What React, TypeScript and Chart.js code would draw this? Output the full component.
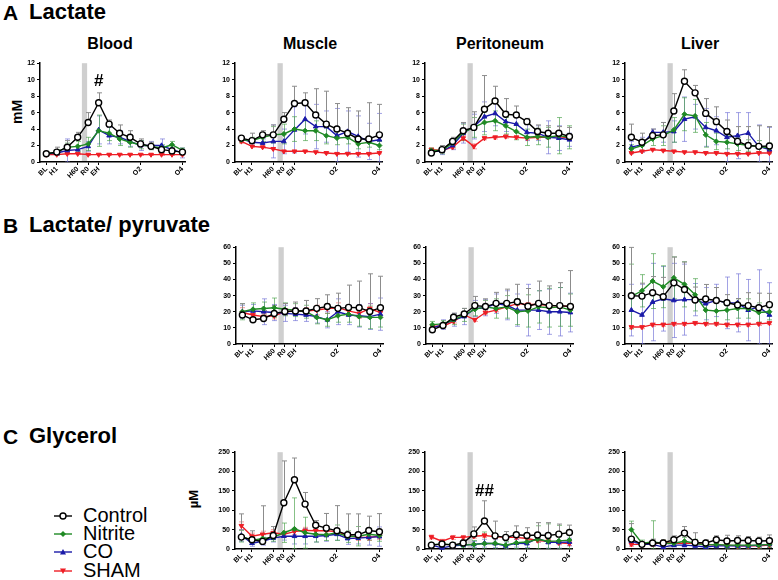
import React, { useEffect, useRef } from 'react';
import { Chart, registerables } from 'chart.js';
Chart.register(...registerables);

const FONT = "'Liberation Sans', Arial, Helvetica, sans-serif";
Chart.defaults.font.family = FONT;

// ---------- axis definitions ----------
const timeLabels = ['BL', 'H1', '', 'H60', 'R0', 'EH', '', '', '', 'O2', '', '', '', 'O4'];
const tickIndices = [0, 1, 3, 4, 5, 9, 13];
const shadeRange = [3.4, 3.9];
const lactateTicks = { max: 12, step: 2 };
const ratioTicks = { max: 60, step: 10 };
const glycerolTicks = { max: 250, step: 50 };

// ---------- A Lactate (mM) ----------
const bloodCtrl = [1.0, 1.2, 1.8, 3.0, 4.8, 7.2, 4.6, 3.5, 3.0, 2.2, 1.9, 1.5, 1.35, 1.2];
const bloodCtrlErr = [0.1, 0.6, 0.8, 0.6, 1.2, 1.2, 0.5, 1.0, 0.8, 0.6, 0.5, 0.4, 0.4, 0.3];
const bloodNit = [1.0, 1.2, 1.8, 1.9, 2.2, 3.8, 3.5, 2.8, 2.4, 2.1, 1.9, 1.7, 2.1, 1.4];
const bloodNitErr = [0.1, 0.3, 0.5, 0.6, 0.8, 1.9, 0.9, 0.8, 0.6, 0.5, 0.4, 0.4, 0.4, 0.3];
const bloodCO = [1.0, 1.1, 1.4, 1.5, 1.9, 3.9, 3.2, 3.0, 2.5, 2.0, 2.0, 2.0, 1.5, 1.1];
const bloodCOErr = [0.1, 0.3, 1.4, 0.5, 0.6, 1.7, 1.0, 0.8, 0.6, 0.6, 0.5, 0.8, 0.5, 0.6];
const bloodSham = [0.9, 0.9, 1.0, 1.0, 0.9, 0.9, 0.9, 0.9, 0.9, 0.9, 0.9, 0.9, 0.9, 0.9];
const bloodShamErr = [0.1, 0.1, 0.1, 0.1, 0.1, 0.1, 0.1, 0.1, 0.1, 0.1, 0.1, 0.1, 0.1, 0.1];

const muscleCtrl = [2.9, 2.6, 3.3, 3.3, 5.2, 7.1, 7.2, 5.7, 4.6, 4.0, 3.5, 2.8, 2.8, 3.3];
const muscleCtrlErr = [0.3, 0.9, 0.5, 1.2, 0.8, 2.1, 1.2, 3.2, 4.0, 3.1, 3.1, 3.4, 4.4, 3.7];
const muscleNit = [2.7, 2.6, 3.0, 3.3, 3.4, 4.0, 3.8, 3.8, 3.2, 2.9, 3.0, 2.2, 2.4, 2.0];
const muscleNitErr = [0.3, 0.4, 0.5, 1.0, 1.2, 1.5, 1.2, 1.2, 1.0, 0.8, 0.8, 0.6, 0.6, 0.5];
const muscleCO = [2.8, 2.4, 2.3, 2.5, 2.5, 3.9, 5.2, 4.3, 4.3, 3.2, 3.7, 3.1, 2.5, 2.7];
const muscleCOErr = [0.3, 0.4, 0.5, 2.0, 1.5, 2.8, 1.8, 2.7, 1.9, 3.3, 2.5, 2.5, 2.2, 3.2];
const muscleSham = [2.5, 1.9, 1.8, 1.6, 1.3, 1.3, 1.3, 1.2, 1.1, 1.0, 1.0, 1.0, 1.0, 1.1];
const muscleShamErr = [0.2, 0.1, 0.1, 0.1, 0.1, 0.1, 0.1, 0.1, 0.1, 0.1, 0.1, 0.1, 0.1, 0.1];

const periCtrl = [1.1, 1.5, 2.5, 3.8, 4.2, 6.4, 7.4, 5.8, 5.7, 4.9, 3.7, 3.5, 3.5, 3.1];
const periCtrlErr = [0.3, 0.5, 0.5, 1.0, 1.9, 4.1, 1.8, 1.9, 1.1, 0.4, 0.8, 0.9, 0.8, 1.1];
const periNit = [1.4, 1.4, 2.3, 3.6, 4.2, 4.8, 5.0, 4.4, 3.7, 3.0, 3.1, 3.0, 3.2, 3.0];
const periNitErr = [0.3, 0.4, 0.5, 1.0, 1.2, 1.5, 1.2, 1.0, 1.0, 1.0, 1.0, 1.2, 2.2, 1.4];
const periCO = [1.3, 1.3, 2.0, 3.5, 4.3, 5.5, 5.9, 4.9, 4.6, 3.6, 3.5, 3.0, 2.9, 2.7];
const periCOErr = [0.3, 0.4, 0.5, 1.2, 1.5, 1.8, 1.5, 1.2, 1.0, 1.0, 0.9, 2.0, 1.5, 0.8];
const periSham = [1.5, 1.4, 1.8, 2.9, 1.9, 2.9, 3.0, 3.1, 3.0, 2.9, 3.0, 3.0, 3.1, 2.9];
const periShamErr = [0.2, 0.2, 0.2, 0.3, 0.3, 0.2, 0.2, 0.2, 0.2, 0.2, 0.2, 0.2, 0.2, 0.2];

const liverCtrl = [3.0, 2.4, 3.2, 3.3, 6.2, 9.8, 8.4, 5.9, 4.9, 3.7, 2.5, 2.0, 1.9, 1.95];
const liverCtrlErr = [1.6, 1.1, 0.8, 1.5, 2.1, 1.4, 0.9, 1.8, 1.8, 1.4, 1.8, 2.3, 2.5, 2.35];
const liverNit = [1.6, 2.0, 2.8, 3.2, 3.9, 5.8, 5.6, 3.3, 2.5, 2.4, 2.2, 2.0, 1.9, 1.7];
const liverNitErr = [0.5, 0.6, 0.8, 1.2, 1.5, 2.0, 2.0, 1.5, 1.0, 0.8, 0.8, 0.7, 0.7, 0.6];
const liverCO = [1.8, 2.1, 3.6, 3.6, 3.7, 5.2, 5.5, 4.2, 3.8, 3.0, 3.2, 3.5, 1.9, 1.5];
const liverCOErr = [0.7, 0.9, 0.4, 1.2, 1.3, 2.7, 1.5, 2.3, 1.7, 3.0, 2.8, 2.5, 2.6, 2.7];
const liverSham = [1.1, 1.3, 1.5, 1.4, 1.3, 1.2, 1.2, 1.1, 1.1, 1.0, 1.0, 1.0, 1.1, 1.1];
const liverShamErr = [0.1, 0.1, 0.1, 0.1, 0.1, 0.1, 0.1, 0.1, 0.1, 0.1, 0.1, 0.1, 0.1, 0.1];

// ---------- B Lactate / pyruvate ----------
const lpMuscleCtrl = [18.0, 15.0, 15.8, 18.9, 20.1, 20.5, 20.5, 22.1, 23.2, 22.1, 22.7, 22.5, 20.1, 22.5];
const lpMuscleCtrlErr = [7, 5, 5, 5, 5, 5.5, 6.5, 6, 7.3, 9.4, 13.8, 16.5, 23.4, 19.5];
const lpMuscleNit = [20, 21.5, 22, 22.5, 21.5, 21, 20, 16.5, 15, 17.5, 18.5, 17, 16.5, 16.5];
const lpMuscleNitErr = [5, 4, 4, 6, 4, 4, 4, 4, 4, 4, 5, 6, 7, 6];
const lpMuscleCO = [20, 20.5, 20, 19.5, 19, 18.5, 18, 17, 15, 20, 18, 17.5, 17, 18.5];
const lpMuscleCOErr = [4, 4, 8, 5, 5, 4, 4, 4, 5, 8, 6, 7, 8, 10];
const lpMuscleSham = [19.5, 18, 17, 17.5, 20, 20.5, 20.5, 21, 22, 22.5, 20.5, 19, 22, 19.5];
const lpMuscleShamErr = [3, 2, 2, 2, 2, 2, 2, 3, 3, 3, 3, 3, 3, 3];

const lpPeriCtrl = [8.8, 11.5, 16.6, 18.6, 23.8, 23.2, 25.2, 25.2, 26.2, 23.4, 25.2, 23.8, 23.8, 23.2];
const lpPeriCtrlErr = [1.5, 2, 2.5, 3.5, 5.7, 4.8, 6.8, 8.8, 10.8, 11, 13.8, 12.2, 14.2, 22.3];
const lpPeriNit = [12, 12.5, 15, 18, 21.5, 23, 22, 23, 20, 20.5, 23, 22.5, 23, 21];
const lpPeriNitErr = [2, 2, 3, 4, 4, 4, 6, 7, 8, 10, 10, 12, 12, 10];
const lpPeriCO = [10, 12, 15, 17, 22, 22.5, 25, 24, 21, 21, 21, 20, 20, 19.5];
const lpPeriCOErr = [2, 3, 4, 5, 5, 5, 6, 9, 10, 16, 12, 14, 15, 12];
const lpPeriSham = [11, 11, 14, 18, 15, 19.5, 21, 23, 25, 24.5, 24.5, 24, 23.5, 23.5];
const lpPeriShamErr = [1, 1, 1, 1, 1, 1, 1, 1, 1, 1, 1, 1, 1, 1];

const lpLiverCtrl = [29.9, 29.7, 31.8, 29.3, 37.9, 33.8, 27.3, 27.9, 27.0, 25.6, 24.2, 23.8, 22.5, 24.4];
const lpLiverCtrlErr = [30, 8, 10, 12, 16, 17, 8, 9, 8, 5, 4, 8, 9, 7];
const lpLiverNit = [29.5, 33, 39, 35.5, 41, 37, 30.5, 21, 20.5, 21, 22, 22, 19.5, 20];
const lpLiverNitErr = [20, 10, 17, 13, 13, 14, 10, 8, 8, 6, 6, 6, 6, 5];
const lpLiverCO = [21, 18, 26, 28, 27, 27.5, 27.5, 25, 27, 25.5, 25.5, 21, 23, 18];
const lpLiverCOErr = [16, 19, 24, 20, 23, 22, 10, 10, 10, 16, 18, 19, 23, 20];
const lpLiverSham = [10.5, 10.5, 12, 12, 12.5, 12.5, 13, 12.5, 12.5, 12, 12, 12, 12.5, 13];
const lpLiverShamErr = [1, 1, 1, 1, 1, 1, 1, 1, 1, 1, 1, 1, 1, 1];

// ---------- C Glycerol (µM) ----------
const glMuscleCtrl = [30.7, 24, 19.6, 35, 119.5, 179, 116, 61.4, 53.8, 47, 36.7, 36.7, 47.8, 44.4];
const glMuscleCtrlErr = [60, 23, 92, 23, 108, 56, 30, 12, 38, 65, 54, 54, 37, 47];
const glMuscleNit = [33, 22, 27, 30, 42, 52, 42, 38, 37, 42, 32, 33, 38, 35];
const glMuscleNitErr = [15, 10, 10, 10, 25, 80, 40, 20, 15, 20, 15, 25, 15, 15];
const glMuscleCO = [35, 15, 20, 28, 33, 33, 33, 33, 35, 38, 27, 28, 30, 32];
const glMuscleCOErr = [15, 8, 10, 10, 10, 20, 20, 15, 15, 15, 15, 15, 20, 25];
const glMuscleSham = [60, 33, 38, 42, 38, 45, 48, 47, 47, 45, 35, 30, 30, 33];
const glMuscleShamErr = [10, 8, 8, 8, 8, 8, 8, 8, 8, 8, 8, 8, 8, 8];

const glPeriCtrl = [10, 13, 10, 15.4, 39, 72.5, 34, 30, 36.7, 35, 36, 35, 38.4, 42.7];
const glPeriCtrlErr = [5, 5, 5, 8, 18, 52, 38, 15, 23, 20, 32, 33, 26, 19];
const glPeriNit = [12, 12, 12, 10, 12, 14, 15, 10, 16, 18, 25, 20, 21, 23];
const glPeriNitErr = [5, 5, 5, 5, 10, 30, 20, 10, 15, 20, 35, 45, 40, 25];
const glPeriCO = [10, 3, 8, 10, 12, 15, 14, 8, 15, 14, 28, 17, 17, 18];
const glPeriCOErr = [5, 5, 5, 5, 8, 10, 10, 10, 10, 10, 10, 15, 15, 10];
const glPeriSham = [31, 20, 30, 30, 33, 35, 32, 30, 30, 27, 22, 20, 16, 14];
const glPeriShamErr = [5, 5, 5, 5, 5, 5, 5, 5, 5, 5, 5, 5, 5, 5];

const glLiverCtrl = [25.6, 12, 15.4, 15.4, 24, 41, 17, 15.4, 24, 20.5, 22, 22, 20.5, 21.3];
const glLiverCtrlErr = [40, 6, 10, 8, 10, 17, 25, 8, 10, 15, 12, 10, 10, 15];
const glLiverNit = [50, 15, 18, 15, 15, 20, 15, 10, 12, 10, 10, 10, 10, 12];
const glLiverNitErr = [22, 8, 55, 8, 8, 10, 10, 8, 8, 8, 8, 10, 8, 8];
const glLiverCO = [20, 12, 12, 5, 10, 10, 8, 5, 8, 8, 8, 8, 10, 12];
const glLiverCOErr = [10, 5, 5, 5, 5, 5, 5, 5, 5, 5, 5, 5, 5, 8];
const glLiverSham = [12, 12, 12, 18, 15, 15, 15, 12, 10, 10, 8, 8, 8, 10];
const glLiverShamErr = [5, 5, 5, 5, 5, 5, 5, 5, 5, 5, 5, 5, 5, 5];

// ---------- annotations ----------
const bloodNotes = [{ x: 5, y: 9.8, text: '#' }];
const glPeriNotes = [{ x: 5, y: 150, text: '##' }];

// ---------- styles ----------
const SERIES = [
  { name: 'Control', color: '#000000', fill: '#ffffff', style: 'circle', radius: 3, rot: 0, err: '#8c8c8c', upOnly: true },
  { name: 'Nitrite', color: '#1f8a24', fill: '#1f8a24', style: 'rectRot', radius: 2.5, rot: 0, err: 'rgba(70,160,70,0.65)', upOnly: false },
  { name: 'CO', color: '#1a1aa8', fill: '#1a1aa8', style: 'triangle', radius: 2.7, rot: 0, err: 'rgba(100,100,210,0.6)', upOnly: false },
  { name: 'SHAM', color: '#ee1d25', fill: '#ee1d25', style: 'triangle', radius: 2.7, rot: 180, err: 'rgba(240,90,90,0.6)', upOnly: false },
];

const YW = 30, PT = 6, PR = 5, XH = 30;

type PanelDef = {
  left: number; top: number; w: number; h: number;
  yCfg: { max: number; step: number };
  vals: number[][]; errs: number[][];
  notes?: { x: number; y: number; text: string }[];
};

const shadePlugin = {
  id: 'shade',
  beforeDatasetsDraw(chart: any) {
    const { ctx, chartArea, scales } = chart;
    const x0 = scales.x.getPixelForValue(shadeRange[0]);
    const x1 = scales.x.getPixelForValue(shadeRange[1]);
    ctx.save();
    ctx.fillStyle = '#cfcfcf';
    ctx.fillRect(x0, chartArea.top, x1 - x0, chartArea.bottom - chartArea.top - 1);
    ctx.restore();
  },
};

const errPlugin = {
  id: 'errbars',
  beforeDatasetsDraw(chart: any) {
    const { ctx, chartArea, scales } = chart;
    const xs = scales.x, ys = scales.y;
    ctx.save();
    ctx.beginPath();
    ctx.rect(chartArea.left, chartArea.top - 1, chartArea.right - chartArea.left, chartArea.bottom - chartArea.top + 1);
    ctx.clip();
    const dss = chart.data.datasets.slice().reverse();
    dss.forEach((ds: any) => {
      const errs = ds.errors as number[];
      if (!errs) return;
      ctx.strokeStyle = ds.errColor;
      ctx.lineWidth = 1;
      ds.data.forEach((p: any, i: number) => {
        const e = errs[i];
        if (!e) return;
        const px = Math.round(xs.getPixelForValue(p.x)) + 0.5;
        const yT = ys.getPixelForValue(p.y + e);
        const yB = ds.upOnly ? ys.getPixelForValue(p.y) : ys.getPixelForValue(Math.max(0, p.y - e));
        ctx.beginPath();
        ctx.moveTo(px, yT);
        ctx.lineTo(px, yB);
        ctx.moveTo(px - 2.5, yT);
        ctx.lineTo(px + 2.5, yT);
        if (!ds.upOnly) {
          ctx.moveTo(px - 2.5, yB);
          ctx.lineTo(px + 2.5, yB);
        }
        ctx.stroke();
      });
    });
    ctx.restore();
  },
};

const notePlugin = {
  id: 'notes',
  afterDatasetsDraw(chart: any) {
    const notes = chart.options.plugins.notes?.items || [];
    const { ctx, scales } = chart;
    ctx.save();
    ctx.fillStyle = '#000';
    ctx.font = `bold 17px ${FONT}`;
    ctx.textAlign = 'center';
    ctx.textBaseline = 'middle';
    notes.forEach((n: any) => {
      ctx.fillText(n.text, scales.x.getPixelForValue(n.x), scales.y.getPixelForValue(n.y));
    });
    ctx.restore();
  },
};

function Panel({ p }: { p: PanelDef }) {
  const ref = useRef<HTMLCanvasElement>(null);
  useEffect(() => {
    const datasets = SERIES.map((s, k) => ({
      label: s.name,
      data: p.vals[k].map((v, i) => ({ x: i, y: v })),
      errors: p.errs[k],
      errColor: s.err,
      upOnly: s.upOnly,
      borderColor: s.color,
      backgroundColor: s.fill,
      borderWidth: 1.4,
      pointStyle: s.style,
      pointRadius: s.radius,
      pointRotation: s.rot,
      pointBorderWidth: k === 0 ? 1.4 : 1,
      pointBorderColor: s.color,
      pointBackgroundColor: s.fill,
      tension: 0,
      clip: 6,
    }));
    const chart = new Chart(ref.current as HTMLCanvasElement, {
      type: 'line',
      data: { datasets } as any,
      plugins: [shadePlugin, errPlugin, notePlugin],
      options: {
        animation: false,
        responsive: false,
        devicePixelRatio: 1,
        layout: { padding: { top: PT, right: PR, left: 0, bottom: 0 } },
        plugins: {
          legend: { display: false },
          tooltip: { enabled: false },
          notes: { items: p.notes || [] },
        } as any,
        scales: {
          x: {
            type: 'linear',
            min: -0.6,
            max: 13.3,
            afterBuildTicks: (scale: any) => {
              scale.ticks = tickIndices.map((v) => ({ value: v }));
            },
            afterFit: (scale: any) => {
              scale.height = XH;
            },
            ticks: {
              autoSkip: false,
              minRotation: 45,
              maxRotation: 45,
              padding: 0,
              color: '#000',
              font: { size: 7, weight: 'bold', family: FONT },
              callback: (v: any) => timeLabels[v as number] ?? '',
            },
            grid: { display: true, drawOnChartArea: false, drawTicks: true, tickLength: 3, color: '#000', lineWidth: 1 },
            border: { display: true, color: '#000', width: 1.5 },
          },
          y: {
            type: 'linear',
            min: 0,
            max: p.yCfg.max,
            afterFit: (scale: any) => {
              scale.width = YW;
            },
            ticks: {
              stepSize: p.yCfg.step,
              padding: 2,
              color: '#000',
              font: { size: 7, weight: 'bold', family: FONT },
            },
            grid: { display: true, drawOnChartArea: false, drawTicks: true, tickLength: 3, color: '#000', lineWidth: 1 },
            border: { display: true, color: '#000', width: 1.5 },
          },
        },
      } as any,
    });
    return () => chart.destroy();
  }, []);
  return (
    <canvas
      ref={ref}
      width={YW + p.w + PR}
      height={PT + p.h + XH}
      style={{ position: 'absolute', left: p.left - YW, top: p.top - PT, width: YW + p.w + PR, height: PT + p.h + XH }}
    />
  );
}

const panels: PanelDef[] = [
  { left: 40, top: 63, w: 146, h: 99, yCfg: lactateTicks, notes: bloodNotes,
    vals: [bloodCtrl, bloodNit, bloodCO, bloodSham], errs: [bloodCtrlErr, bloodNitErr, bloodCOErr, bloodShamErr] },
  { left: 235, top: 63, w: 148, h: 99, yCfg: lactateTicks,
    vals: [muscleCtrl, muscleNit, muscleCO, muscleSham], errs: [muscleCtrlErr, muscleNitErr, muscleCOErr, muscleShamErr] },
  { left: 425, top: 63, w: 148, h: 99, yCfg: lactateTicks,
    vals: [periCtrl, periNit, periCO, periSham], errs: [periCtrlErr, periNitErr, periCOErr, periShamErr] },
  { left: 625, top: 63, w: 148, h: 99, yCfg: lactateTicks,
    vals: [liverCtrl, liverNit, liverCO, liverSham], errs: [liverCtrlErr, liverNitErr, liverCOErr, liverShamErr] },
  { left: 236, top: 247, w: 148, h: 97, yCfg: ratioTicks,
    vals: [lpMuscleCtrl, lpMuscleNit, lpMuscleCO, lpMuscleSham], errs: [lpMuscleCtrlErr, lpMuscleNitErr, lpMuscleCOErr, lpMuscleShamErr] },
  { left: 426, top: 247, w: 148, h: 97, yCfg: ratioTicks,
    vals: [lpPeriCtrl, lpPeriNit, lpPeriCO, lpPeriSham], errs: [lpPeriCtrlErr, lpPeriNitErr, lpPeriCOErr, lpPeriShamErr] },
  { left: 625, top: 247, w: 148, h: 97, yCfg: ratioTicks,
    vals: [lpLiverCtrl, lpLiverNit, lpLiverCO, lpLiverSham], errs: [lpLiverCtrlErr, lpLiverNitErr, lpLiverCOErr, lpLiverShamErr] },
  { left: 235, top: 452, w: 148, h: 97, yCfg: glycerolTicks,
    vals: [glMuscleCtrl, glMuscleNit, glMuscleCO, glMuscleSham], errs: [glMuscleCtrlErr, glMuscleNitErr, glMuscleCOErr, glMuscleShamErr] },
  { left: 425, top: 452, w: 148, h: 97, yCfg: glycerolTicks, notes: glPeriNotes,
    vals: [glPeriCtrl, glPeriNit, glPeriCO, glPeriSham], errs: [glPeriCtrlErr, glPeriNitErr, glPeriCOErr, glPeriShamErr] },
  { left: 625, top: 452, w: 148, h: 97, yCfg: glycerolTicks,
    vals: [glLiverCtrl, glLiverNit, glLiverCO, glLiverSham], errs: [glLiverCtrlErr, glLiverNitErr, glLiverCOErr, glLiverShamErr] },
];

const tissueTitles = [
  { text: 'Blood', cx: 110 },
  { text: 'Muscle', cx: 310 },
  { text: 'Peritoneum', cx: 500 },
  { text: 'Liver', cx: 700 },
];

const txt = (size: number, bold = true): React.CSSProperties => ({
  position: 'absolute',
  fontFamily: FONT,
  fontSize: size,
  fontWeight: bold ? 'bold' : 'normal',
  lineHeight: 1,
  whiteSpace: 'nowrap',
  color: '#000',
});

function LegendMarker({ k }: { k: number }) {
  const s = SERIES[k];
  let marker: React.ReactNode = null;
  if (s.style === 'circle') marker = <circle cx={9} cy={6} r={3} fill="#fff" stroke={s.color} strokeWidth={1.4} />;
  else if (s.style === 'rectRot') marker = <polygon points="9,3 12,6 9,9 6,6" fill={s.color} />;
  else if (s.rot === 0) marker = <polygon points="9,3 12,8.5 6,8.5" fill={s.color} />;
  else marker = <polygon points="9,9 12,3.5 6,3.5" fill={s.color} />;
  return (
    <svg width={18} height={12} style={{ position: 'absolute', left: 0, top: 0 }}>
      <line x1={0} y1={6} x2={18} y2={6} stroke={s.color} strokeWidth={1.4} />
      {marker}
    </svg>
  );
}

const legendTops = [505, 523, 541, 560];

export default function App() {
  return (
    <div style={{ position: 'fixed', left: 0, top: 0, width: 778, height: 580, background: '#fff', overflow: 'hidden' }}>
      <div style={{ ...txt(21), left: 3, top: 2 }}>A</div>
      <div style={{ ...txt(22), left: 29, top: 1 }}>Lactate</div>
      <div style={{ ...txt(21), left: 3, top: 215 }}>B</div>
      <div style={{ ...txt(22), left: 29, top: 214 }}>Lactate/ pyruvate</div>
      <div style={{ ...txt(21), left: 3, top: 426 }}>C</div>
      <div style={{ ...txt(22), left: 29, top: 425 }}>Glycerol</div>

      {tissueTitles.map((t) => (
        <div key={t.text} style={{ ...txt(16), left: t.cx - 100, width: 200, textAlign: 'center', top: 36 }}>{t.text}</div>
      ))}

      <div style={{ ...txt(14), left: 17, top: 112, transform: 'translate(-50%,-50%) rotate(-90deg)' }}>mM</div>
      <div style={{ ...txt(13), left: 193, top: 499, transform: 'translate(-50%,-50%) rotate(-90deg)' }}>µM</div>

      {panels.map((p, i) => (
        <Panel key={i} p={p} />
      ))}

      {SERIES.map((s, k) => (
        <div key={s.name} style={{ position: 'absolute', left: 54, top: legendTops[k], height: 20, width: 120 }}>
          <div style={{ position: 'absolute', left: 0, top: 5, width: 18, height: 12 }}>
            <LegendMarker k={k} />
          </div>
          <div style={{ ...txt(20, false), left: 29, top: 0 }}>{s.name}</div>
        </div>
      ))}
    </div>
  );
}
